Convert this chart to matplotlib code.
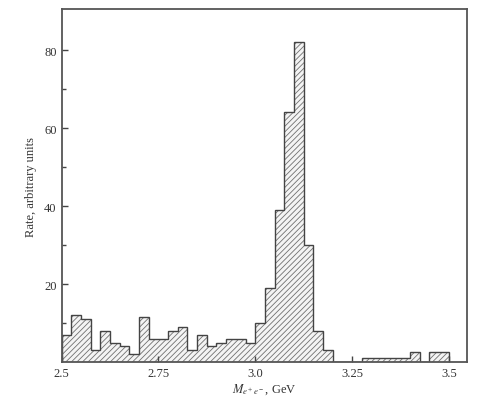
import numpy as np
import matplotlib
matplotlib.use("Agg")
import matplotlib.pyplot as plt

# Data: e+e- invariant mass histogram (bin width 0.025 GeV from 2.5 GeV)
mass_start = 2.5
bin_width = 0.025
rates = [7, 12, 11, 3, 8, 5, 4, 2, 11.5, 6,
         6, 8, 9, 3, 7, 4, 5, 6, 6, 5,
         10, 19, 39, 64, 82, 30, 8, 3, 0, 0,
         0, 1, 1, 1, 1, 1, 2.5, 0, 2.5, 2.5]
xticks = [2.5, 2.75, 3.0, 3.25, 3.5]
xtick_labels = ["2.5", "2.75", "3.0", "3.25", "3.5"]
yticks = [20, 40, 60, 80]
yminor = [10, 30, 50, 70]

edges = np.round(mass_start + bin_width * np.arange(len(rates) + 1), 4)

plt.rcParams['font.family'] = ['Liberation Serif', 'DejaVu Serif']
plt.rcParams['mathtext.fontset'] = 'stix'
plt.rcParams['hatch.linewidth'] = 0.6
plt.rcParams['hatch.color'] = '#707070'

fig = plt.figure(figsize=(4.81, 4.02), dpi=100)
ax = fig.add_axes([0.128, 0.097, 0.843, 0.878])

ax.stairs(rates, edges, baseline=0, fill=True, facecolor='#f4f4f4',
          hatch='//////', edgecolor='#707070', linewidth=0)
ax.stairs(rates, edges, baseline=0, fill=False, edgecolor='#444444',
          linewidth=1.0)

ax.set_xlim(2.5, 3.547)
ax.set_ylim(0, 90.5)
ax.set_xticks(xticks)
ax.set_xticklabels(xtick_labels)
ax.set_yticks(yticks)
ax.set_yticks(yminor, minor=True)
ax.tick_params(direction='in', length=4, width=1, colors='#444444',
               labelsize=9, labelcolor='#333333')
ax.tick_params(which='minor', direction='in', length=3, width=1, colors='#444444')
for s in ax.spines.values():
    s.set_color('#555555')
    s.set_linewidth(1.3)

ax.set_ylabel('Rate, arbitrary units', fontsize=9, color='#333333', labelpad=5)
ax.set_xlabel(r'$M_{e^+e^-}$, GeV', fontsize=9, color='#333333', labelpad=2)

fig.savefig('out.png', dpi=100, facecolor='white')
